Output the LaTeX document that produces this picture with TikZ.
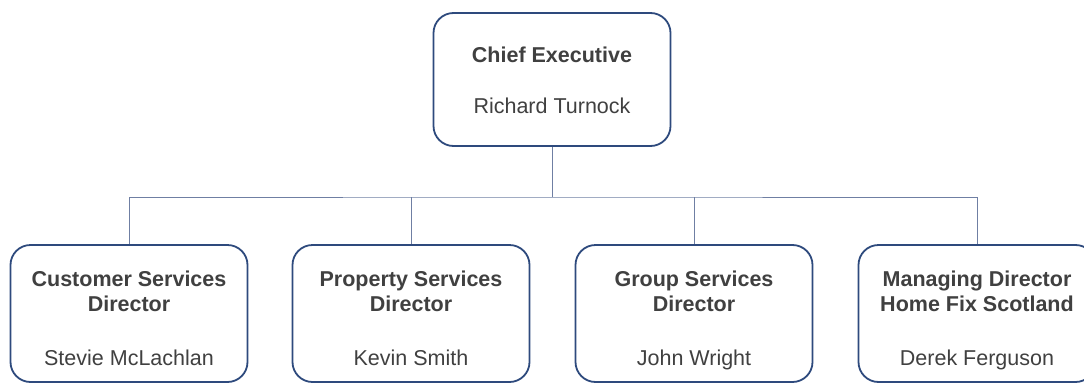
\documentclass[tikz,border=0pt]{standalone}
\usepackage{fontspec}
\setmainfont{Liberation Sans}
\usepackage{tikz}

\definecolor{boxline}{HTML}{2E4A7D}
\definecolor{linkline}{HTML}{6F7FA3}
\definecolor{txt}{HTML}{404040}

\tikzset{
  post/.style={draw=boxline, line width=1.8pt, rounded corners=20pt, fill=white,
    minimum width=237pt, inner sep=0pt},
  title/.style={text=txt, align=center, inner sep=0pt,
    font=\fontsize{21.5}{25}\selectfont\bfseries},
  who/.style={text=txt, anchor=base, inner sep=0pt,
    font=\fontsize{21.5}{25}\selectfont},
  link/.style={draw=linkline, line width=0.9pt},
}

\begin{document}
\begin{tikzpicture}[x=1pt,y=-1pt]
\useasboundingbox (0,0) rectangle (1084,383);
\clip (0,0) rectangle (1084,383);
\node [post, minimum height=133pt] (chief) at (552,79.5) {};
\node [title, anchor=base] (chieft) at (552,62) {Chief Executive};
\node [who] (chiefn) at (552,113) {Richard Turnock};

\node [post, minimum height=137pt] (cust) at (129,313.5) {};
\node [post, minimum height=137pt] (prop) at (411,313.5) {};
\node [post, minimum height=137pt] (group) at (694,313.5) {};
\node [post, minimum height=137pt] (home) at (977,313.5) {};

\node [title] (custt) at (129,291) {Customer Services\\Director};
\node [who] (custn) at (129,365) {Stevie McLachlan};
\node [title] (propt) at (411,291) {Property Services\\Director};
\node [who] (propn) at (411,365) {Kevin Smith};
\node [title] (groupt) at (694,291) {Group Services\\Director};
\node [who] (groupn) at (694,365) {John Wright};
\node [title] (homet) at (977,291) {Managing Director\\Home Fix Scotland};
\node [who] (homen) at (977,365) {Derek Ferguson};

\coordinate (bus) at (552,197);
\draw [link] (chief.south) -- (bus);
\draw [link] (cust.north) |- (bus) -| (home.north);
\draw [link] (prop.north) -- (prop.north |- bus);
\draw [link] (group.north) -- (group.north |- bus);
\end{tikzpicture}
\end{document}
